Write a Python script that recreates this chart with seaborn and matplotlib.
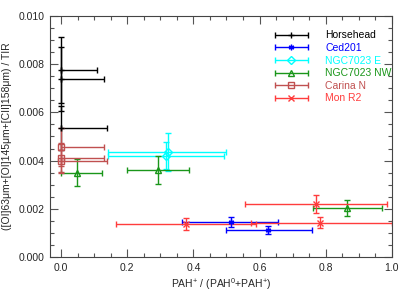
import numpy as np
import matplotlib
matplotlib.use("Agg")
import matplotlib.pyplot as plt
from matplotlib.legend_handler import HandlerErrorbar
import seaborn as sns

# ---- data ----
series = ["Horsehead", "Ced201", "NGC7023 E", "NGC7023 NW", "Carina N", "Mon R2"]
colors = ["black", "blue", "cyan", "#1a961a", "#c05050", "#ff3c3c"]
markers = ["+", (6, 2, 0), "D", "^", "s", "x"]

hh_x = [0.0, 0.0, 0.0]
hh_y = [0.00776, 0.00739, 0.00535]
hh_xlo = [0.0, 0.0, 0.0]
hh_xhi = [0.108, 0.130, 0.140]
hh_ye = [0.00138, 0.00134, 0.00090]

ced_x = [0.513, 0.627]
ced_y = [0.00145, 0.00112]
ced_xlo = [0.146, 0.129]
ced_xhi = [0.144, 0.130]
ced_ye = [0.00020, 0.00016]

ne_x = [0.322, 0.317]
ne_y = [0.00435, 0.00421]
ne_xlo = [0.179, 0.174]
ne_xhi = [0.178, 0.176]
ne_ye = [0.00078, 0.00058]

nw_x = [0.047, 0.294, 0.865]
nw_y = [0.00350, 0.00361, 0.00205]
nw_xlo = [0.047, 0.094, 0.105]
nw_xhi = [0.078, 0.093, 0.105]
nw_ye = [0.00057, 0.00057, 0.00033]

car_x = [0.0, 0.0, 0.0]
car_y = [0.00456, 0.00410, 0.00398]
car_xlo = [0.0, 0.0, 0.0]
car_xhi = [0.131, 0.131, 0.140]
car_ye = [0.00080, 0.00062, 0.00045]

mon_x = [0.378, 0.772, 0.784]
mon_y = [0.00135, 0.00219, 0.00142]
mon_xlo = [0.212, 0.216, 0.210]
mon_xhi = [0.212, 0.214, 0.216]
mon_ye = [0.00025, 0.00038, 0.00023]

data = [
    (hh_x, hh_y, hh_xlo, hh_xhi, hh_ye),
    (ced_x, ced_y, ced_xlo, ced_xhi, ced_ye),
    (ne_x, ne_y, ne_xlo, ne_xhi, ne_ye),
    (nw_x, nw_y, nw_xlo, nw_xhi, nw_ye),
    (car_x, car_y, car_xlo, car_xhi, car_ye),
    (mon_x, mon_y, mon_xlo, mon_xhi, mon_ye),
]

sns.set_theme(style="ticks")
plt.rcParams['font.family'] = ['Liberation Sans', 'DejaVu Sans']
plt.rcParams['mathtext.fontset'] = 'custom'
plt.rcParams['mathtext.rm'] = 'Liberation Sans'
plt.rcParams['mathtext.it'] = 'Liberation Sans'

fig = plt.figure(figsize=(4.07, 2.91), dpi=100)
ax = fig.add_axes([0.123, 0.117, 0.840, 0.828])

handles = []
for name, c, m, (x, y, xlo, xhi, ye) in zip(series, colors, markers, data):
    ax.errorbar(x, y, xerr=[xlo, xhi], yerr=ye, fmt='none', ecolor=c,
                elinewidth=1.0, capsize=2.5, capthick=1.0, zorder=2)
    ax.plot(x, y, linestyle='none', marker=m, color=c, mfc='none', mec=c,
            ms=4, mew=1.0, zorder=3)
    h = ax.errorbar([np.nan], [np.nan], xerr=[1], fmt=' ', marker=m, color=c,
                    mfc='none', mec=c, ms=4, elinewidth=1.0, capsize=2.5,
                    label=name)
    handles.append(h)

leg = ax.legend(handles=handles, loc='upper left', bbox_to_anchor=(0.655, 0.94),
                frameon=False, fontsize=7.5, handlelength=3.3, handletextpad=1.6,
                labelspacing=0.25, borderpad=0, borderaxespad=0,
                handler_map={type(handles[0]): HandlerErrorbar(xerr_size=1.6)})
for t, c in zip(leg.get_texts(), colors):
    t.set_color(c)

ax.set_xlim(-0.033, 1.0)
ax.set_ylim(0.0, 0.010)
ax.set_xticks([0.0, 0.2, 0.4, 0.6, 0.8, 1.0])
ax.set_xticklabels(["0.0", "0.2", "0.4", "0.6", "0.8", "1.0"])
ax.set_yticks([0.0, 0.002, 0.004, 0.006, 0.008, 0.010])
ax.set_yticklabels(["0.000", "0.002", "0.004", "0.006", "0.008", "0.010"])
ax.xaxis.set_minor_locator(matplotlib.ticker.MultipleLocator(0.05))
ax.yaxis.set_minor_locator(matplotlib.ticker.MultipleLocator(0.0005))
ax.tick_params(which='both', direction='in', top=True, right=True,
               labelsize=7.5, color='#555555', width=0.8)
ax.tick_params(which='major', length=6, pad=4)
ax.tick_params(which='minor', length=3)
for sp in ax.spines.values():
    sp.set_linewidth(0.8)
    sp.set_color('#444444')

ax.set_xlabel("PAH$^{+}$ / (PAH$^{0}$+PAH$^{+}$)", fontsize=7.5, labelpad=3)
ax.set_ylabel("([OI]63μm+[OI]145μm+[CII]158μm) / TIR", fontsize=7.5, labelpad=5)

fig.savefig("out.png", dpi=100)
